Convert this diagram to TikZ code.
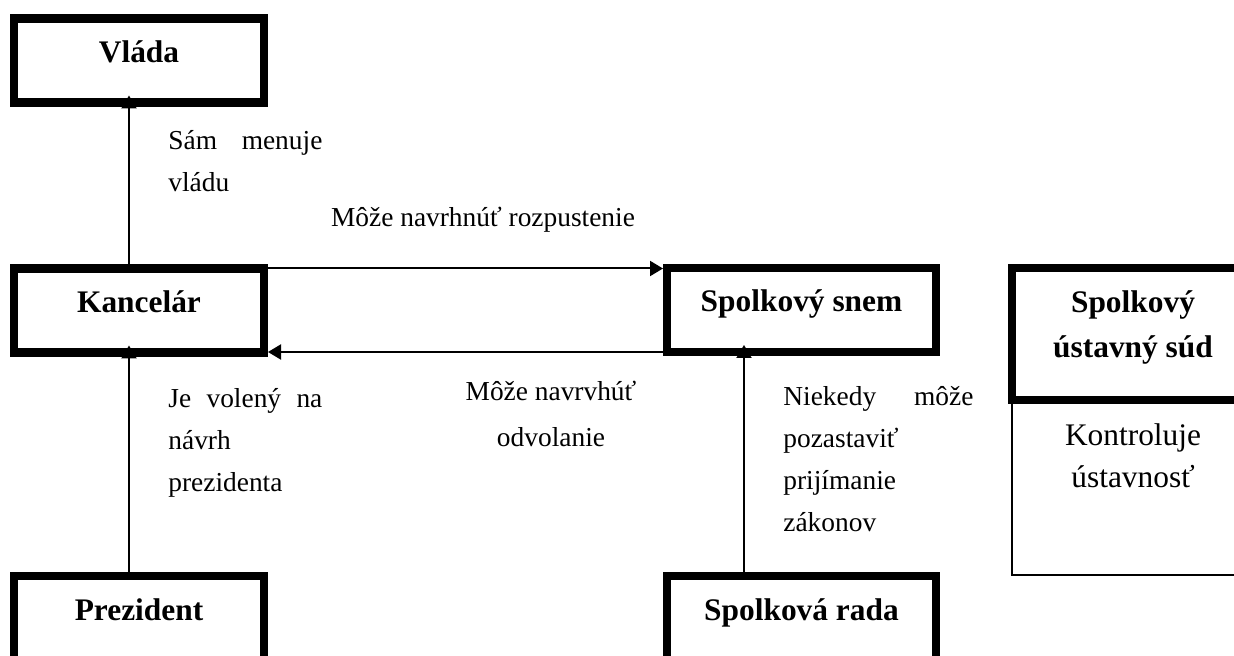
\documentclass[tikz,border=0pt]{standalone}
\usepackage{fontspec}
\setmainfont{Liberation Serif}
\usepackage{tikz}
\usetikzlibrary{arrows.meta}
\usetikzlibrary{positioning}
\tikzstyle{Box}=[draw,line width=4.2pt,outer sep=0pt,inner sep=0pt,
minimum width=125pt,minimum height=42pt,
font=\bfseries\fontsize{15.7}{22.5}\selectfont,text height=11pt,text depth=9pt]
\tikzstyle{WideBox}=[Box,minimum width=134.5pt]
\tikzstyle{ThinBox}=[draw,line width=1pt,outer sep=0pt,
minimum width=121pt,minimum height=87.5pt]
\tikzstyle{BoxText}=[inner sep=0pt,align=center,
font=\fontsize{15.7}{21}\selectfont]
\tikzstyle{Note}=[inner sep=0pt,align=left,font=\fontsize{13.7}{21}\selectfont]
\tikzstyle{Arrow}=[-{Triangle[length=6.5pt,width=7.5pt]},line width=1pt]

\begin{document}
\begin{tikzpicture}[x=0.5pt,y=-0.5pt]
            \useasboundingbox(0,0)rectangle(1234,656);
            \clip(0,0)rectangle(1234,656);
            \node[Box](vlada)at(139,60.5){Vláda};
            \node[Box](kancelar)at(139,310.5){Kancelár};
            \node[Box](prezident)at(139,618){Prezident};
            \node[WideBox](snem)at(801.5,310){Spolkový snem};
            \node[WideBox](rada)at(801.5,618){Spolková rada};
            \node[Box,minimum width=121pt,minimum height=66pt](sud)at(1133,334){};
            \node[ThinBox,anchor=north west](kontrola)at(sud.south west){};
            \node[BoxText,font=\bfseries\fontsize{15.7}{22.5}\selectfont,
                below=11pt of sud.north](sudtext){Spolkový\\ústavný súd};
            \node[BoxText,below=11.5pt of kontrola.north](kontrolatext)
                {Kontroluje\\ústavnosť};
            %
            \draw[Arrow,shorten >=-3.5pt]([xshift=-5pt]kancelar.north)
                --([xshift=-5pt]vlada.south);
            \draw[Arrow,shorten >=-3.5pt]([xshift=-5pt]prezident.north)
                --([xshift=-5pt]kancelar.south);
            \draw[Arrow,shorten >=-3.5pt]([xshift=-28.75pt]rada.north)
                --([xshift=-28.75pt]snem.south);
            \draw[Arrow,shorten >=2pt](kancelar.north east)
                --(kancelar.north east-|snem.west);
            \draw[Arrow,shorten >=2pt](snem.south west)
                --(snem.south west-|kancelar.east);
            %
            \node[Note,text width=77pt,anchor=north west](menuje)at(168,130)
                {Sám\hfill menuje\\vládu};
            \node[Note,anchor=north](rozpustenie)at(483,207)
                {Môže navrhnúť rozpustenie};
            \node[Note,text width=77pt,anchor=north west](voleny)at(168,388)
                {Je\hfill volený\hfill na\\návrh\\prezidenta};
            \node[Note,align=center,anchor=north](odvolanie)at(551,381)
                {Môže navrvhúť\\[2pt]odvolanie};
            \node[Note,text width=95pt,anchor=north west](pozastavit)at(783,386)
                {Niekedy\hfill môže\\pozastaviť\\prijímanie\\zákonov};
        \end{tikzpicture}
\end{document}
